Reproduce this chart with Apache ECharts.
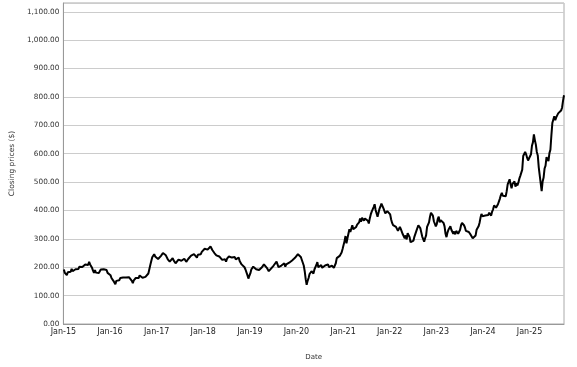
<!DOCTYPE html>
<html>
<head>
<meta charset="utf-8">
<script src="https://cdn.jsdelivr.net/npm/echarts@6/dist/echarts.min.js"></script>
<style>
html,body{margin:0;padding:0;background:#fff;}
#chart{width:577px;height:367px;}
</style>
</head>
<body>
<div id="chart"></div>
<script>
// Closing prices, four readings per month, Jan 2015 – Sep 2025
var startYear = 2015;
var pointsPerYear = 48;
var tickYears = [2015, 2016, 2017, 2018, 2019, 2020, 2021, 2022, 2023, 2024, 2025];
var yTicks = [0, 100, 200, 300, 400, 500, 600, 700, 800, 900, 1000, 1100];

var p2015 = [192,180,184,172, 182,179,189,184, 194,186,192,185, 193,189,199,194, 202,197,206,201, 208,202,210,204,
             212,208,219,210, 207,198,188,180, 190,181,184,174, 180,186,192,188, 197,193,199,190, 190,180,184,178];
var p2016 = [172,162,164,152, 150,140,152,147, 158,154,162,156, 158,164,162,170, 164,160,169,165, 168,158,152,144,
             154,150,162,158, 167,162,171,166, 172,163,168,159, 166,172,170,178, 184,208,222,235, 242,246,238,243];
var p2017 = [236,229,233,226, 240,237,250,245, 256,242,235,228, 229,220,226,222, 232,224,221,214, 220,217,227,221,
             229,223,228,222, 230,224,219,226, 229,235,233,241, 243,238,246,240, 239,234,244,240, 250,246,254,252];
var p2018 = [258,265,260,272, 262,256,268,273, 266,260,262,250, 252,242,246,236, 238,232,236,226, 232,224,228,220,
             230,226,238,234, 242,234,238,230, 236,228,232,224, 234,222,218,210, 216,204,200,192, 186,172,160,170];
var p2019 = [178,192,190,202, 196,200,193,199, 196,190,194,186, 200,204,210,206, 208,198,194,186, 192,188,198,204,
             206,212,208,220, 210,200,204,196, 206,212,208,214, 202,210,206,214, 216,221,214,224, 226,222,233,229];
var p2020 = [238,246,240,250, 236,242,230,206, 186,158,138,152, 162,176,172,186, 180,178,192,188, 208,218,200,196,
             204,208,198,202, 200,206,212,204, 210,200,198,206, 206,212,198,194, 214,232,228,236, 240,246,252,264];
var p2021 = [270,292,310,284, 302,318,334,324, 330,348,334,328, 338,342,350,346, 358,372,360,374, 380,364,372,376,
             370,364,354,372, 386,396,404,412, 422,402,396,378, 392,406,414,424, 420,408,402,390, 386,398,402,392];
var p2022 = [386,368,356,348, 352,344,342,348, 328,324,342,334, 330,316,314,302, 312,298,320,316, 306,288,284,292,
             294,308,312,328, 334,348,352,338, 332,308,302,290, 302,312,342,346, 358,378,392,386, 382,362,356,344];
var p2023 = [352,370,378,358, 366,372,362,356, 344,318,306,322, 332,338,344,332, 334,318,326,316, 328,332,318,324,
             332,348,356,362, 348,340,328,332, 328,324,318,314, 310,302,296,302, 312,332,336,344, 356,374,388,380];
var p2024 = [378,374,382,380, 388,384,392,386, 382,396,404,418, 422,410,404,422, 426,442,454,462, 452,448,456,450,
             468,492,498,510, 492,478,494,490, 502,484,496,488, 498,512,522,524, 544,592,598,606, 598,586,576,570];
var p2025 = [582,598,628,640, 668,648,632,606, 594,552,556,548, 468,502,516,548, 558,588,592,574, 602,614,664,708,
             714,732,718,728, 734,742,748,736, 752,762,786,806];

var prices = [].concat(p2015, p2016, p2017, p2018, p2019, p2020, p2021, p2022, p2023, p2024, p2025);
var seriesData = prices.map(function (v, i) {
  return [startYear + (i + 0.5) / pointsPerYear, v];
});
var xMax = seriesData[seriesData.length - 1][0];

function fmtMoney(v) {
  return Number(v).toLocaleString('en-US', {minimumFractionDigits: 2, maximumFractionDigits: 2});
}

var chart = echarts.init(document.getElementById('chart'), null, {renderer: 'canvas'});
chart.setOption({
  animation: false,
  backgroundColor: '#fff',
  grid: {left: 52, right: 13, top: 3, bottom: 43, show: true, borderColor: '#aaaaaa', borderWidth: 1, containLabel: false},
  xAxis: {
    type: 'value',
    min: tickYears[0],
    max: xMax,
    interval: 1,
    name: 'Date',
    nameLocation: 'middle',
    nameGap: 30,
    nameTextStyle: {fontFamily: 'DejaVu Sans', fontSize: 7, color: '#333'},
    axisLine: {show: true, lineStyle: {color: '#999', width: 1}},
    axisTick: {show: false},
    splitLine: {show: false},
    axisLabel: {
      showMaxLabel: false,
      showMinLabel: true,
      margin: 4,
      fontFamily: 'DejaVu Sans', fontSize: 8, color: '#222',
      formatter: function (v) {
        if (tickYears.indexOf(Math.round(v)) < 0 || Math.abs(v - Math.round(v)) > 1e-6) return '';
        return 'Jan-' + String(Math.round(v)).slice(2);
      }
    }
  },
  yAxis: {
    type: 'value',
    min: yTicks[0],
    max: 1131,
    interval: 100,
    name: 'Closing prices ($)',
    nameLocation: 'middle',
    nameGap: 40,
    nameTextStyle: {fontFamily: 'DejaVu Sans', fontSize: 7.5, color: '#333'},
    axisLine: {show: true, lineStyle: {color: '#999', width: 1}},
    axisTick: {show: false},
    splitLine: {show: true, lineStyle: {color: '#cccccc', width: 1}},
    axisLabel: {
      showMaxLabel: false,
      margin: 4,
      fontFamily: 'DejaVu Sans', fontSize: 7.3, color: '#333',
      formatter: function (v) {
        if (yTicks.indexOf(v) < 0) return '';
        return fmtMoney(v);
      }
    }
  },
  series: [{
    type: 'line',
    data: seriesData,
    showSymbol: false,
    symbol: 'none',
    lineStyle: {color: '#000', width: 2},
    z: 3
  }]
});
</script>
</body>
</html>
